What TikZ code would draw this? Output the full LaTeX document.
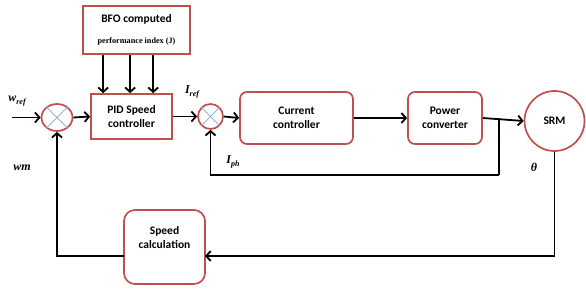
\documentclass[tikz,border=0pt]{standalone}
\usepackage{fontspec}
\setmainfont{Carlito}
\newfontfamily\serifb{Liberation Serif}
\usetikzlibrary{arrows.meta,shapes.geometric,calc}
\definecolor{redb}{RGB}{192,80,77}
\definecolor{xblue}{RGB}{149,179,215}
\newcommand{\bisym}[2]{{\serifb\bfseries\itshape #1}\raisebox{-2.5pt}{\serifb\bfseries\itshape\fontsize{8}{9}\selectfont #2}}
\begin{document}
\begin{tikzpicture}[x=1pt,y=-1pt,
  blk/.style={draw=redb,line width=1.7pt,align=center,font=\fontsize{11.5}{14}\selectfont\bfseries,inner sep=2pt},
  rblk/.style={blk,rounded corners=7pt},
  sumj/.style={draw=redb,line width=1.7pt,inner sep=0pt},
  arr/.style={line width=1.8pt,-{Straight Barb[length=4.5pt,width=10pt]}},
  ln/.style={line width=1.8pt},
  lbl/.style={font=\fontsize{12}{14}\selectfont,inner sep=0pt}]
\useasboundingbox (0,0) rectangle (586,289);
% blocks
\node[blk,minimum width=107pt,minimum height=48pt] (bfo) at (136.5,30)
  {BFO computed\\[7pt]{\serifb\bfseries\fontsize{8.2}{10}\selectfont performance index (J)}};
\node[blk,minimum width=81pt,minimum height=45pt] (pid) at (131.5,116.5) {PID Speed\\controller};
\node[sumj,ellipse,minimum width=31pt,minimum height=27pt] (s1) at (57,117.5) {};
\node[sumj,circle,minimum size=25pt] (s2) at (210.5,116.5) {};
\node[rblk,minimum width=113pt,minimum height=52pt] (cur) at (296.5,118) {Current\\controller};
\node[rblk,minimum width=74pt,minimum height=52pt] (pow) at (445,118) {Power\\converter};
\node[blk,circle,minimum size=60pt] (srm) at (554.5,121) {SRM};
\node[rblk,rounded corners=11pt,minimum width=81pt,minimum height=74pt,text depth=0pt] (spd) at (164.5,247) {Speed\\calculation\\[6pt]};
% crosses in summing junctions
\draw[xblue,line width=0.8pt] (s1.135) -- (s1.-45) (s1.45) -- (s1.-135);
\draw[xblue,line width=0.8pt] (s2.135) -- (s2.-45) (s2.45) -- (s2.-135);
% coordinates
\coordinate (in) at (12,117.5);
\coordinate (p1) at ($(pid.north west)+(13,0)$);
\coordinate (p2) at ($(pid.north west)+(40,0)$);
\coordinate (p3) at ($(pid.north west)+(63,0)$);
\coordinate (br) at (499,118);
\coordinate (brd) at (499,175);
\coordinate (spdin) at (205,256);
\coordinate (spdout) at (124,256);
% connectors
\draw[arr] (in) -- (s1.west);
\draw[arr] (s1.east) -- (pid.west);
\foreach \p in {p1,p2,p3} \draw[arr] (bfo.south -| \p) -- (\p);
\draw[arr] (pid.east) -- (s2.west);
\draw[arr] (s2.east) -- (cur.west);
\draw[arr] (cur.east) -- (pow.west);
\draw[arr] (pow.east) -- (srm.west);
\draw[ln] (br) -- (brd);
\draw[arr] (brd) -| (s2.south);
\draw[arr] (srm.south) |- (spdin);
\draw[arr] (spdout) -| (s1.south);
% labels
\node[lbl] (lw) at (17,101) {\bisym{w}{ref}};
\node[lbl] (li) at (192,92) {\bisym{I}{ref}};
\node[lbl] (lp) at (233,162) {\bisym{I}{ph}};
\node[lbl] (lm) at (22,168) {{\serifb\bfseries\itshape wm}};
\node[lbl] (lt) at (534,167) {{\serifb\bfseries\itshape θ}};
\end{tikzpicture}
\end{document}
